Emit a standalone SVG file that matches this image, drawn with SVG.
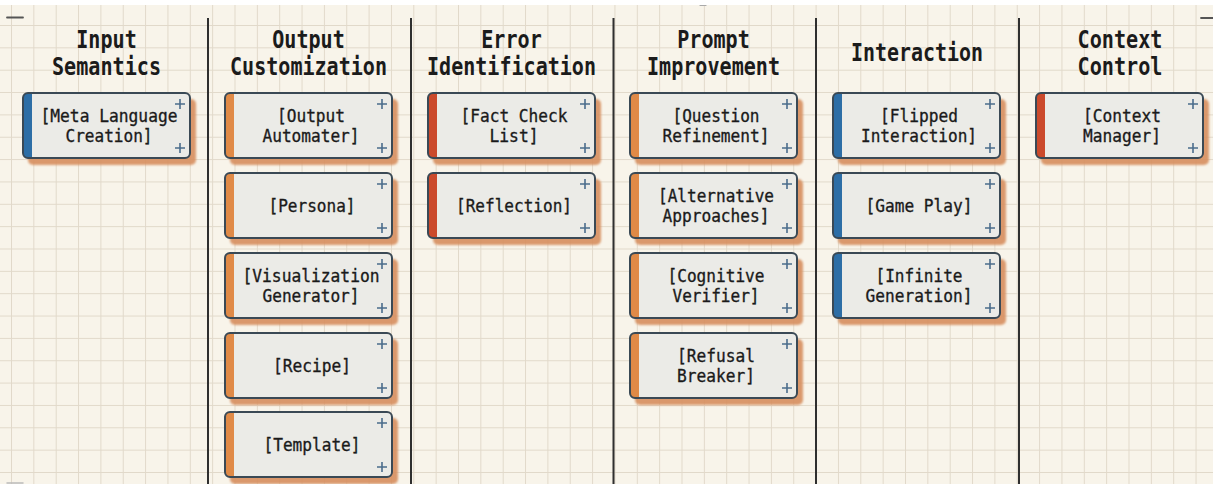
<svg xmlns="http://www.w3.org/2000/svg" xmlns:xlink="http://www.w3.org/1999/xlink" width="1213" height="484" viewBox="0 0 1213 484">
<style>
.tt{font-family:"DejaVu Sans Mono","Liberation Mono",monospace;font-weight:bold;font-size:24px;fill:#1b1b1b;text-anchor:middle}
.bt{font-family:"DejaVu Sans Mono","Liberation Mono",monospace;font-size:18.5px;fill:#1a1a1a;stroke:#1a1a1a;stroke-width:0.35;text-anchor:middle}
.sh{fill:#d78f5e;opacity:0.9;filter:url(#blur)}
.bd{fill:#ebebe7}
.ol{fill:none;stroke:#3a4955;stroke-width:2}
.pl{fill:none;stroke:#4b6d8c;stroke-width:1.6}
.blue{fill:#2d6ea6}
.orange{fill:#e08a47}
.red{fill:#cb4a2c}
.div{stroke:#2f2f2f;stroke-width:2}
</style>
<defs>
<pattern id="grid" width="22.35" height="22.35" patternUnits="userSpaceOnUse" x="11" y="2.65">
<path d="M0,0.5 H22.35 M0.5,0 V22.35" fill="none" stroke="#e1d9ca" stroke-width="1"/>
</pattern>
<filter id="blur" x="-10%" y="-10%" width="120%" height="130%"><feGaussianBlur stdDeviation="0.9"/></filter>
<rect id="shadow" x="5" y="6" width="168" height="66" rx="5"/>
<rect id="body" width="167" height="65" rx="5"/>
<path id="strip" d="M5,0 h4 v65 h-4 a5,5 0 0 1 -5,-5 v-55 a5,5 0 0 1 5,-5 z"/>
<path id="plus" d="M152,11 h10 M157,6 v10 M152,55 h10 M157,50 v10"/>
</defs>
<rect width="1213" height="484" fill="#ffffff"/>
<rect y="5" width="1213" height="479" fill="#f8f4ea"/>
<rect y="5" width="1213" height="479" fill="url(#grid)"/>
<g id="marks" stroke-linecap="round">
<line x1="7" y1="17.5" x2="23" y2="17.5" stroke="#555" stroke-width="1.8"/>
<line x1="1201" y1="18" x2="1213" y2="18" stroke="#555" stroke-width="1.8"/>
<line x1="700" y1="5.5" x2="706" y2="5.5" stroke="#aaa" stroke-width="1.2"/>
<line x1="7" y1="483" x2="23" y2="483" stroke="#bbb" stroke-width="1.5"/>
</g>
<g id="dividers" class="div">
<line x1="208" y1="18" x2="208" y2="484"/>
<line x1="411" y1="18" x2="411" y2="484"/>
<line x1="613.5" y1="18" x2="613.5" y2="484"/>
<line x1="816" y1="18" x2="816" y2="484"/>
<line x1="1019" y1="18" x2="1019" y2="484"/>
</g>
<g id="titles">
<text class="tt" x="106.5" y="48" textLength="60.5" lengthAdjust="spacingAndGlyphs">Input</text>
<text class="tt" x="106.5" y="75" textLength="109" lengthAdjust="spacingAndGlyphs">Semantics</text>
<text class="tt" x="308.5" y="48" textLength="72.6" lengthAdjust="spacingAndGlyphs">Output</text>
<text class="tt" x="308.5" y="75" textLength="157" lengthAdjust="spacingAndGlyphs">Customization</text>
<text class="tt" x="511.5" y="48" textLength="60.5" lengthAdjust="spacingAndGlyphs">Error</text>
<text class="tt" x="511.5" y="75" textLength="169" lengthAdjust="spacingAndGlyphs">Identification</text>
<text class="tt" x="713.5" y="48" textLength="72.6" lengthAdjust="spacingAndGlyphs">Prompt</text>
<text class="tt" x="713.5" y="75" textLength="133" lengthAdjust="spacingAndGlyphs">Improvement</text>
<text class="tt" x="917" y="61" textLength="132" lengthAdjust="spacingAndGlyphs">Interaction</text>
<text class="tt" x="1120" y="48" textLength="85" lengthAdjust="spacingAndGlyphs">Context</text>
<text class="tt" x="1120" y="75" textLength="85" lengthAdjust="spacingAndGlyphs">Control</text>
</g>

<g id="n-meta-language" transform="translate(23,93)">
<use href="#shadow" class="sh"/><use href="#body" class="bd"/><use href="#strip" class="blue"/><use href="#body" class="ol"/><use href="#plus" class="pl"/>
<text class="bt" x="86" y="29" textLength="137" lengthAdjust="spacingAndGlyphs">[Meta Language</text>
<text class="bt" x="86" y="49" textLength="87" lengthAdjust="spacingAndGlyphs">Creation]</text>
</g>

<g id="n-output-automater" transform="translate(225,93)">
<use href="#shadow" class="sh"/><use href="#body" class="bd"/><use href="#strip" class="orange"/><use href="#body" class="ol"/><use href="#plus" class="pl"/>
<text class="bt" x="86" y="29" textLength="68" lengthAdjust="spacingAndGlyphs">[Output</text>
<text class="bt" x="86" y="49" textLength="97" lengthAdjust="spacingAndGlyphs">Automater]</text>
</g>
<g id="n-persona" transform="translate(225,173)">
<use href="#shadow" class="sh"/><use href="#body" class="bd"/><use href="#strip" class="orange"/><use href="#body" class="ol"/><use href="#plus" class="pl"/>
<text class="bt" x="87" y="39" textLength="87" lengthAdjust="spacingAndGlyphs">[Persona]</text>
</g>
<g id="n-visualization-generator" transform="translate(225,253)">
<use href="#shadow" class="sh"/><use href="#body" class="bd"/><use href="#strip" class="orange"/><use href="#body" class="ol"/><use href="#plus" class="pl"/>
<text class="bt" x="86" y="29" textLength="137" lengthAdjust="spacingAndGlyphs">[Visualization</text>
<text class="bt" x="86" y="49" textLength="97" lengthAdjust="spacingAndGlyphs">Generator]</text>
</g>
<g id="n-recipe" transform="translate(225,333)">
<use href="#shadow" class="sh"/><use href="#body" class="bd"/><use href="#strip" class="orange"/><use href="#body" class="ol"/><use href="#plus" class="pl"/>
<text class="bt" x="87" y="39" textLength="78" lengthAdjust="spacingAndGlyphs">[Recipe]</text>
</g>
<g id="n-template" transform="translate(225,412)">
<use href="#shadow" class="sh"/><use href="#body" class="bd"/><use href="#strip" class="orange"/><use href="#body" class="ol"/><use href="#plus" class="pl"/>
<text class="bt" x="87" y="39" textLength="97" lengthAdjust="spacingAndGlyphs">[Template]</text>
</g>

<g id="n-fact-check-list" transform="translate(428,93)">
<use href="#shadow" class="sh"/><use href="#body" class="bd"/><use href="#strip" class="red"/><use href="#body" class="ol"/><use href="#plus" class="pl"/>
<text class="bt" x="86" y="29" textLength="107" lengthAdjust="spacingAndGlyphs">[Fact Check</text>
<text class="bt" x="86" y="49" textLength="49" lengthAdjust="spacingAndGlyphs">List]</text>
</g>
<g id="n-reflection" transform="translate(428,173)">
<use href="#shadow" class="sh"/><use href="#body" class="bd"/><use href="#strip" class="red"/><use href="#body" class="ol"/><use href="#plus" class="pl"/>
<text class="bt" x="86" y="39" textLength="116" lengthAdjust="spacingAndGlyphs">[Reflection]</text>
</g>

<g id="n-question-refinement" transform="translate(630,93)">
<use href="#shadow" class="sh"/><use href="#body" class="bd"/><use href="#strip" class="orange"/><use href="#body" class="ol"/><use href="#plus" class="pl"/>
<text class="bt" x="86" y="29" textLength="87" lengthAdjust="spacingAndGlyphs">[Question</text>
<text class="bt" x="86" y="49" textLength="107" lengthAdjust="spacingAndGlyphs">Refinement]</text>
</g>
<g id="n-alternative-approaches" transform="translate(630,173)">
<use href="#shadow" class="sh"/><use href="#body" class="bd"/><use href="#strip" class="orange"/><use href="#body" class="ol"/><use href="#plus" class="pl"/>
<text class="bt" x="86" y="29" textLength="116" lengthAdjust="spacingAndGlyphs">[Alternative</text>
<text class="bt" x="86" y="49" textLength="107" lengthAdjust="spacingAndGlyphs">Approaches]</text>
</g>
<g id="n-cognitive-verifier" transform="translate(630,253)">
<use href="#shadow" class="sh"/><use href="#body" class="bd"/><use href="#strip" class="orange"/><use href="#body" class="ol"/><use href="#plus" class="pl"/>
<text class="bt" x="86" y="29" textLength="97" lengthAdjust="spacingAndGlyphs">[Cognitive</text>
<text class="bt" x="86" y="49" textLength="87" lengthAdjust="spacingAndGlyphs">Verifier]</text>
</g>
<g id="n-refusal-breaker" transform="translate(630,333)">
<use href="#shadow" class="sh"/><use href="#body" class="bd"/><use href="#strip" class="orange"/><use href="#body" class="ol"/><use href="#plus" class="pl"/>
<text class="bt" x="86" y="29" textLength="78" lengthAdjust="spacingAndGlyphs">[Refusal</text>
<text class="bt" x="86" y="49" textLength="78" lengthAdjust="spacingAndGlyphs">Breaker]</text>
</g>

<g id="n-flipped-interaction" transform="translate(833,93)">
<use href="#shadow" class="sh"/><use href="#body" class="bd"/><use href="#strip" class="blue"/><use href="#body" class="ol"/><use href="#plus" class="pl"/>
<text class="bt" x="86" y="29" textLength="78" lengthAdjust="spacingAndGlyphs">[Flipped</text>
<text class="bt" x="86" y="49" textLength="116" lengthAdjust="spacingAndGlyphs">Interaction]</text>
</g>
<g id="n-game-play" transform="translate(833,173)">
<use href="#shadow" class="sh"/><use href="#body" class="bd"/><use href="#strip" class="blue"/><use href="#body" class="ol"/><use href="#plus" class="pl"/>
<text class="bt" x="86" y="39" textLength="107" lengthAdjust="spacingAndGlyphs">[Game Play]</text>
</g>
<g id="n-infinite-generation" transform="translate(833,253)">
<use href="#shadow" class="sh"/><use href="#body" class="bd"/><use href="#strip" class="blue"/><use href="#body" class="ol"/><use href="#plus" class="pl"/>
<text class="bt" x="86" y="29" textLength="87" lengthAdjust="spacingAndGlyphs">[Infinite</text>
<text class="bt" x="86" y="49" textLength="107" lengthAdjust="spacingAndGlyphs">Generation]</text>
</g>

<g id="n-context-manager" transform="translate(1036,93)">
<use href="#shadow" class="sh"/><use href="#body" class="bd"/><use href="#strip" class="red"/><use href="#body" class="ol"/><use href="#plus" class="pl"/>
<text class="bt" x="86" y="29" textLength="78" lengthAdjust="spacingAndGlyphs">[Context</text>
<text class="bt" x="86" y="49" textLength="78" lengthAdjust="spacingAndGlyphs">Manager]</text>
</g>
</svg>
